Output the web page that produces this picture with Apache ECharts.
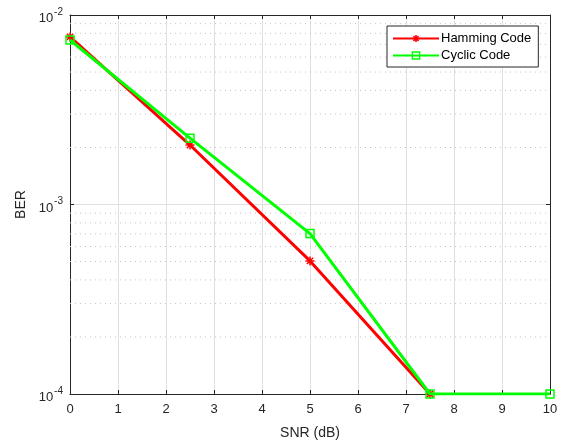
<!DOCTYPE html>
<html>
<head>
<meta charset="utf-8">
<script src="https://cdn.jsdelivr.net/npm/echarts@6/dist/echarts.min.js"></script>
<style>
  html, body { margin: 0; padding: 0; background: #fff; }
  #chart { width: 565px; height: 443px; }
</style>
</head>
<body>
<div id="chart"></div>
<script>
// SNR sweep (dB) and measured bit error rates
const snr = [0, 2.5, 5, 7.5, 10];
const hammingBer = [0.00766, 0.00206, 0.000504, 0.0001, null];
const cyclicBer = [0.00738, 0.00224, 0.000702, 0.0001, 0.0001];
const xTicks = [0, 1, 2, 3, 4, 5, 6, 7, 8, 9, 10];
// minor log grid lines (2..9 within each decade)
const minorGrid = [2e-4, 3e-4, 4e-4, 5e-4, 6e-4, 7e-4, 8e-4, 9e-4,
                   2e-3, 3e-3, 4e-3, 5e-3, 6e-3, 7e-3, 8e-3, 9e-3];

const FONT = 'Liberation Sans, Arial, Helvetica, sans-serif';
const AX = '#262626';
const asterisk = 'path://M0,5L10,5M5,0L5,10M1.5,1.5L8.5,8.5M1.5,8.5L8.5,1.5';

function expLabel(v) {
  const e = Math.round(Math.log10(v));
  return '{b|10}{s|' + e + '}';
}

const redStyle = { color: 'rgba(0,0,0,0)', borderColor: '#ff0000', borderWidth: 1.5 };
const greenStyle = { color: 'rgba(0,0,0,0)', borderColor: '#00ff00', borderWidth: 1.5 };

const chart = echarts.init(document.getElementById('chart'), null, { renderer: 'canvas' });
chart.setOption({
  animation: false,
  backgroundColor: '#fff',
  grid: { left: 70, right: 15, top: 15, bottom: 49, containLabel: false, outerBoundsMode: 'none' },
  legend: {
    left: 387, top: 26,
    orient: 'vertical',
    backgroundColor: '#fff',
    borderColor: AX, borderWidth: 1,
    padding: [6, 7, 5, 5],
    itemGap: 4,
    itemWidth: 46, itemHeight: 9,
    textStyle: { fontFamily: FONT, fontSize: 13, color: '#000', padding: [0, 0, 0, -3] },
    data: [
      { name: 'Hamming Code', itemStyle: redStyle },
      { name: 'Cyclic Code', itemStyle: greenStyle }
    ]
  },
  xAxis: [{
    type: 'value', min: 0, max: 10, interval: 1,
    name: 'SNR (dB)', nameLocation: 'middle', nameGap: 32,
    nameTextStyle: { fontFamily: FONT, fontSize: 14, color: AX },
    axisLine: { onZero: false, lineStyle: { color: AX, width: 1 } },
    axisTick: { inside: true, length: 4, lineStyle: { color: AX } },
    axisLabel: { fontFamily: FONT, fontSize: 13, color: AX, margin: 9,
      formatter: v => xTicks.includes(v) ? String(v) : '' },
    splitLine: { show: true, lineStyle: { color: '#e0e0e0', width: 1 } }
  }, {
    type: 'value', min: 0, max: 10, interval: 1, position: 'top',
    axisLine: { onZero: false, lineStyle: { color: AX, width: 1 } },
    axisTick: { inside: true, length: 4, lineStyle: { color: AX } },
    axisLabel: { show: false }, splitLine: { show: false }
  }],
  yAxis: [{
    type: 'log', logBase: 10, min: 1e-4, max: 1e-2,
    name: 'BER', nameLocation: 'middle', nameGap: 42,
    nameTextStyle: { fontFamily: FONT, fontSize: 14, color: AX },
    axisLine: { onZero: false, lineStyle: { color: AX, width: 1 } },
    axisTick: { inside: true, length: 4, lineStyle: { color: AX } },
    axisLabel: {
      margin: 7, formatter: expLabel,
      rich: {
        b: { fontFamily: FONT, fontSize: 13, color: AX, padding: [7, 0, 0, 0] },
        s: { fontFamily: FONT, fontSize: 10, color: AX, padding: [0, 0, 6, 1] }
      }
    },
    splitLine: { show: true, lineStyle: { color: '#e0e0e0', width: 1 } }
  }, {
    type: 'log', logBase: 10, min: 1e-4, max: 1e-2, position: 'right',
    axisLine: { onZero: false, lineStyle: { color: AX, width: 1 } },
    axisTick: { inside: true, length: 4, lineStyle: { color: AX } },
    axisLabel: { show: false }, splitLine: { show: false }
  }],
  series: [{
    // dotted minor grid across the plot at each minor decade value
    type: 'custom',
    silent: true,
    z: 1,
    data: minorGrid.map(v => [0, v]),
    renderItem: function (params, api) {
      const v = api.value(1);
      const p1 = api.coord([0, v]);
      const p2 = api.coord([10, v]);
      return {
        type: 'line',
        shape: { x1: p1[0], y1: p1[1], x2: p2[0], y2: p2[1] },
        style: { stroke: '#c4c4c4', lineWidth: 1, lineDash: [1, 4] }
      };
    }
  }, {
    name: 'Hamming Code',
    type: 'line',
    data: snr.map((x, i) => [x, hammingBer[i]]),
    connectNulls: false,
    lineStyle: { color: '#ff0000', width: 3 },
    itemStyle: redStyle,
    symbol: asterisk, symbolSize: 9,
    z: 3
  }, {
    name: 'Cyclic Code',
    type: 'line',
    data: snr.map((x, i) => [x, cyclicBer[i]]),
    lineStyle: { color: '#00ff00', width: 3 },
    itemStyle: greenStyle,
    symbol: 'rect', symbolSize: 8,
    z: 4
  }]
});
</script>
</body>
</html>
